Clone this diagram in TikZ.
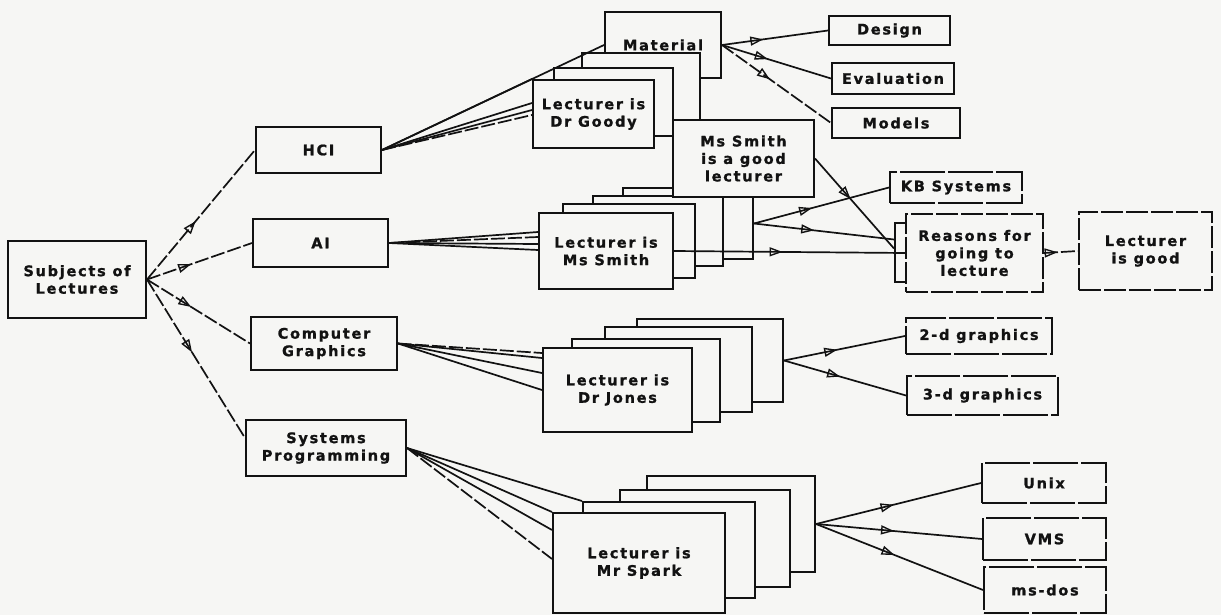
\documentclass[tikz,border=0pt]{standalone}
\usepackage{fontspec}
\setmainfont{DejaVu Sans}[LetterSpace=12, BoldFeatures={FakeBold=1.2}]
\usetikzlibrary{arrows.meta,decorations.markings,calc}

\definecolor{paper}{RGB}{246,246,244}
\definecolor{ink}{RGB}{18,18,18}

\tikzset{
  box/.style={draw=ink, line width=2pt, fill=paper, inner sep=2pt, align=center,
              font=\bfseries\fontsize{14.5}{17.5}\selectfont, text=ink},
  brk/.style={dash pattern=on 45pt off 3pt},
  dbox/.style={dash pattern=on 22pt off 3pt},
  wire/.style={draw=ink, line width=1.7pt},
  dwire/.style={wire, dash pattern=on 14pt off 3pt},
  midtip/.style={postaction={decorate}, decoration={markings,
      mark=at position #1 with {\arrow{Triangle[open, length=13pt, width=9pt, line width=1.4pt]}}}},
}

% box by its corners: [style]{name}{x1}{y1}{x2}{y2}{text}
\newcommand\bx[7][]{\node[box,#1,minimum width={(#5-#3)*1pt},minimum height={(#6-#4)*1pt}]
  (#2) at ({(#3+#5)/2},{(#4+#6)/2}) {#7};}

\begin{document}
\begin{tikzpicture}[x=1pt,y=-1pt]
\useasboundingbox (0,0) rectangle (1221,615);
\fill[paper] (0,0) rectangle (1221,615);

% subjects
\bx{subj}{8}{241}{146}{318}{Subjects of\\Lectures}
\bx{hci}{256}{127}{381}{173}{HCI}
\bx{ai}{253}{219}{388}{267}{AI}
\bx{cg}{251}{317}{397}{370}{Computer\\Graphics}
\bx{sp}{246}{420}{406}{476}{Systems\\Programming}

% HCI stack
\bx{mat}{605}{12}{721}{78}{Material}
\bx{g3}{582}{53}{700}{121}{}
\bx{g2}{554}{68}{673}{136}{}
\bx{goody}{533}{80}{654}{148}{Lecturer is\\Dr Goody}

% AI stack
\bx{s4}{623}{188}{753}{259}{}
\bx{s3}{593}{196}{723}{266}{}
\bx{s2}{563}{204}{695}{278}{}
\bx{ms}{539}{213}{673}{289}{Lecturer is\\Ms Smith}
\bx{smgood}{673}{120}{814}{197}{Ms Smith\\is a good\\lecturer}

% graphics stack
\bx{j4}{637}{319}{783}{402}{}
\bx{j3}{605}{327}{752}{412}{}
\bx{j2}{572}{339}{720}{422}{}
\bx{jones}{543}{348}{692}{432}{Lecturer is\\Dr Jones}

% systems stack
\bx{p4}{647}{476}{815}{572}{}
\bx{p3}{620}{490}{790}{587}{}
\bx{p2}{583}{502}{755}{598}{}
\bx{spark}{553}{513}{725}{613}{Lecturer is\\Mr Spark}

% leaves
\bx{design}{829}{16}{950}{45}{Design}
\bx{eval}{832}{63}{954}{94}{Evaluation}
\bx{models}{832}{108}{960}{138}{Models}
\bx[brk]{kb}{890}{172}{1022}{203}{KB Systems}
\bx{rback}{895}{223}{1000}{282}{}
\bx[dbox]{reasons}{906}{214}{1043}{292}{Reasons for\\going to\\lecture}
\bx[dbox]{good}{1079}{212}{1212}{290}{Lecturer\\is good}
\bx[brk]{gr2}{906}{318}{1052}{354}{2-d graphics}
\bx[brk]{gr3}{907}{376}{1058}{415}{3-d graphics}
\bx[brk]{unix}{982}{463}{1106}{503}{Unix}
\bx[brk]{vms}{983}{518}{1106}{560}{VMS}
\bx[brk]{msdos}{984}{567}{1106}{613}{ms-dos}

% subjects to areas
\draw[dwire,midtip=0.45] (subj.east) -- (hci.west);
\draw[dwire,midtip=0.42] (subj.east) -- (ai.west);
\draw[dwire,midtip=0.43] (subj.east) -- (cg.west);
\draw[dwire,midtip=0.46] (subj.east) -- ([yshift=10pt]sp.west);

% HCI to its lecturers
\draw[wire] (hci.east) -- (goody.north west);
\draw[wire] (hci.east) -- (mat.west);
\draw[wire] (hci.east) -- ([yshift=11pt]goody.west);
\draw[wire] (hci.east) -- ([yshift=4pt]goody.west);
\draw[dwire] (hci.east) -- ([yshift=-1pt]goody.west);

% AI to its lecturers
\draw[wire] (ai.east) -- ([yshift=19pt]ms.west);
\draw[dwire] (ai.east) -- ([yshift=14pt]ms.west);
\draw[wire] (ai.east) -- ([yshift=7pt]ms.west);
\draw[wire] (ai.east) -- ([yshift=1pt]ms.west);

% graphics to its lecturers
\draw[dwire] (cg.east) -- ([yshift=37pt]jones.west);
\draw[wire] (cg.east) -- ([yshift=32pt]jones.west);
\draw[wire] (cg.east) -- ([yshift=17pt]jones.west);
\draw[wire] (cg.east) -- (jones.west);

% systems to its lecturers
\draw[wire] (sp.east) -- (p2.north west);
\draw[wire] (sp.east) -- (spark.north west);
\draw[wire] (sp.east) -- ([yshift=33pt]spark.west);
\draw[dwire] (sp.east) -- ([yshift=4pt]spark.west);

% material topics
\draw[wire,midtip=0.39] (mat.east) -- (design.west);
\draw[wire,midtip=0.42] (mat.east) -- (eval.west);
\draw[dwire,midtip=0.44] (mat.east) -- (models.west);

% AI lecturers onward
\draw[wire,midtip=0.43] (s4.east) -- (kb.west);
\draw[wire,midtip=0.43] (s4.east) -- ([yshift=13pt]rback.west);
\draw[wire,midtip=0.47] (ms.east) -- (reasons.west);
\draw[wire,midtip=0.45] (smgood.east) -- ([yshift=4pt]rback.west);
\draw[dwire,midtip=0.4] (reasons.east) -- (good.west);

% graphics topics
\draw[wire,midtip=0.44] (j4.east) -- (gr2.west);
\draw[wire,midtip=0.46] (j4.east) -- (gr3.west);

% systems topics
\draw[wire,midtip=0.47] (p4.east) -- (unix.west);
\draw[wire,midtip=0.47] (p4.east) -- (vms.west);
\draw[wire,midtip=0.47] (p4.east) -- (msdos.west);
\end{tikzpicture}
\end{document}
